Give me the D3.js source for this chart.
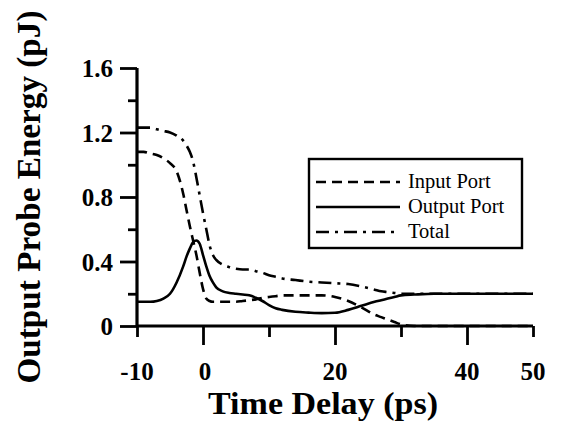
<!DOCTYPE html>
<html>
<head>
<meta charset="utf-8">
<script src="https://cdn.jsdelivr.net/npm/d3@7"></script>
<style>
  body { margin: 0; background: #fff; }
  svg { display: block; }
</style>
</head>
<body>
<div id="chart"></div>
<script>
// values
const timeDelay = [-10, -9, -8, -7, -6, -5, -4, -3, -2.5, -2, -1.5, -1, -0.5, 0, 0.5, 1, 1.5, 2, 3, 4, 5, 6, 7, 8, 9, 10, 11, 12, 14, 16, 18, 20, 22, 24, 26, 27, 28, 29, 30, 32, 35, 40, 45, 50];
const inputPort = [1.08, 1.08, 1.07, 1.06, 1.04, 1.01, 0.96, 0.82, 0.72, 0.62, 0.53, 0.44, 0.33, 0.23, 0.17, 0.155, 0.15, 0.15, 0.15, 0.15, 0.15, 0.155, 0.16, 0.165, 0.175, 0.18, 0.185, 0.19, 0.19, 0.19, 0.19, 0.18, 0.155, 0.115, 0.07, 0.055, 0.04, 0.025, 0.01, 0, 0, 0, 0, 0];
const outputPort = [0.15, 0.15, 0.15, 0.155, 0.17, 0.2, 0.27, 0.37, 0.43, 0.48, 0.52, 0.53, 0.51, 0.44, 0.37, 0.31, 0.27, 0.24, 0.215, 0.205, 0.2, 0.195, 0.19, 0.175, 0.155, 0.13, 0.11, 0.1, 0.088, 0.083, 0.08, 0.082, 0.1, 0.125, 0.15, 0.16, 0.17, 0.18, 0.19, 0.195, 0.2, 0.2, 0.2, 0.2];
const total = [1.23, 1.23, 1.23, 1.22, 1.21, 1.2, 1.18, 1.15, 1.12, 1.08, 1.02, 0.92, 0.81, 0.7, 0.6, 0.5, 0.44, 0.41, 0.38, 0.365, 0.355, 0.35, 0.35, 0.34, 0.33, 0.315, 0.305, 0.295, 0.285, 0.275, 0.27, 0.265, 0.26, 0.245, 0.225, 0.215, 0.21, 0.205, 0.2, 0.2, 0.2, 0.2, 0.2, 0.2];

const xTicks = [-10, 0, 10, 20, 30, 40, 50];
const xLabels = [-10, 0, 20, 40, 50];
const yTicks = [0, 0.2, 0.4, 0.6, 0.8, 1.0, 1.2, 1.4, 1.6];
const yLabels = ["0", "0.4", "0.8", "1.2", "1.6"];

const seriesNames = ["Input Port", "Output Port", "Total"];
const seriesDash = ["10,6", null, "13,6,3,6"];

const width = 562, height = 429;
const serif = "'Liberation Serif', 'Times New Roman', serif";

const svg = d3.select("#chart").append("svg")
    .attr("width", width).attr("height", height)
    .style("font-family", serif);

const x = d3.scaleLinear().domain([-10, 50]).range([137, 533]);
const y = d3.scaleLinear().domain([0, 1.6]).range([326, 68]);

// curves
const series = [inputPort, outputPort, total];
const line = d3.line()
    .x(d => x(d[0]))
    .y(d => y(d[1]))
    .curve(d3.curveMonotoneX);

series.forEach((vals, i) => {
    svg.append("path")
        .datum(timeDelay.map((t, k) => [t, vals[k]]))
        .attr("d", line)
        .attr("fill", "none")
        .attr("stroke", "#000")
        .attr("stroke-width", 2.6)
        .attr("stroke-dasharray", seriesDash[i]);
});

// x axis
const xAxis = svg.append("g")
    .attr("transform", `translate(0,${y(0)})`)
    .call(d3.axisBottom(x).tickValues(xTicks).tickSize(16).tickFormat(""));
xAxis.select(".domain").attr("stroke", "#000").attr("stroke-width", 3.2)
    .attr("d", `M${x(-10)},0H${x(50)}`);
xAxis.selectAll(".tick line")
    .attr("stroke", "#000").attr("stroke-width", 2.8)
    .attr("y2", d => (d === 10 || d === 30 || d === -10 || d === 50) ? 11 : 19);

xLabels.forEach(v => {
    svg.append("text")
        .attr("x", x(v) + (v === 0 ? 2 : 0)).attr("y", 380)
        .attr("text-anchor", "middle")
        .style("font-size", "25px").style("font-weight", "bold")
        .text(v);
});

// y axis
const yAxis = svg.append("g")
    .attr("transform", `translate(${x(-10)},0)`)
    .call(d3.axisLeft(y).tickValues(yTicks).tickSize(16).tickFormat(""));
yAxis.select(".domain").attr("stroke", "#000").attr("stroke-width", 3.2)
    .attr("d", `M0,${y(1.6)}V${y(0)}`);
yAxis.selectAll(".tick line")
    .attr("stroke", "#000").attr("stroke-width", 2.8)
    .attr("x2", (d, i) => i % 2 === 0 ? -17 : -9);

yLabels.forEach(s => {
    svg.append("text")
        .attr("x", 113).attr("y", y(+s) + 9)
        .attr("text-anchor", "end")
        .style("font-size", "25px").style("font-weight", "bold")
        .text(s);
});

// axis titles
svg.append("text")
    .attr("x", 323).attr("y", 414)
    .attr("text-anchor", "middle")
    .attr("textLength", 230).attr("lengthAdjust", "spacingAndGlyphs")
    .style("font-size", "31px").style("font-weight", "bold")
    .text("Time Delay (ps)");

svg.append("text")
    .attr("transform", "translate(40,197) rotate(-90)")
    .attr("text-anchor", "middle")
    .attr("textLength", 373).attr("lengthAdjust", "spacingAndGlyphs")
    .style("font-size", "33px").style("font-weight", "bold")
    .text("Output Probe Energy (pJ)");

// legend
const legend = svg.append("g");
legend.append("rect")
    .attr("x", 309).attr("y", 159)
    .attr("width", 213).attr("height", 89)
    .attr("fill", "#fff").attr("stroke", "#000").attr("stroke-width", 2.4);

seriesNames.forEach((name, i) => {
    const yy = 182 + i * 25;
    legend.append("line")
        .attr("x1", 316).attr("x2", 400)
        .attr("y1", yy).attr("y2", yy)
        .attr("stroke", "#000").attr("stroke-width", 2.6)
        .attr("stroke-dasharray", seriesDash[i]);
    legend.append("text")
        .attr("x", 408).attr("y", yy + 6)
        .style("font-size", "20.5px")
        .text(name);
});
</script>
</body>
</html>
